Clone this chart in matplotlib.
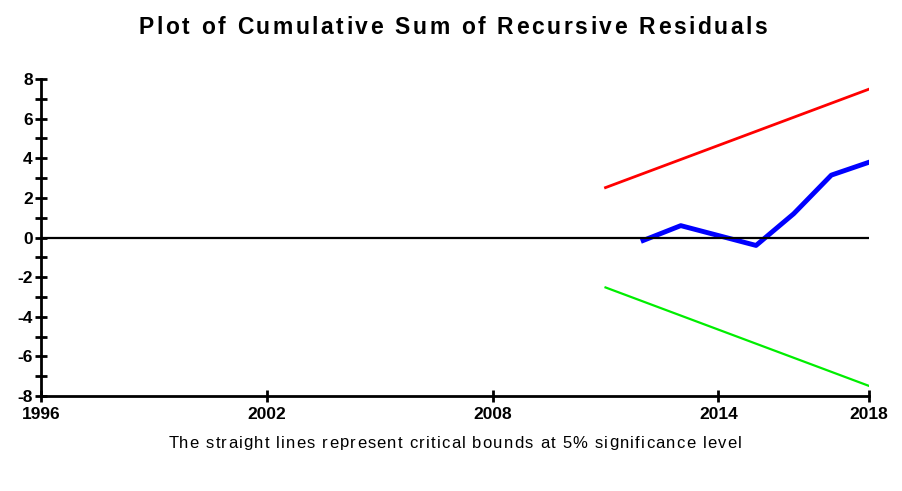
import matplotlib
matplotlib.use("Agg")
import matplotlib.pyplot as plt
from matplotlib.ticker import MultipleLocator

# data
years = [2011, 2012, 2013, 2014, 2015, 2016, 2017, 2018]
cusum_years = [2012, 2013, 2014, 2015, 2016, 2017, 2018]
cusum = [-0.15, 0.6, 0.1, -0.4, 1.2, 3.15, 3.8]
upper = [2.52, 3.23, 3.94, 4.65, 5.36, 6.07, 6.78, 7.49]
lower = [-v for v in upper]
xticks = [1996, 2002, 2008, 2014, 2018]

title = 'Plot of Cumulative Sum of Recursive Residuals'
note = 'The straight lines represent critical bounds at 5% significance level'

plt.rcParams['font.family'] = ['Liberation Sans', 'DejaVu Sans']
plt.rcParams['axes.unicode_minus'] = False

fig = plt.figure(figsize=(9.03, 4.91), dpi=100)
ax = fig.add_axes([0.0454, 0.1935, 0.9169, 0.6455])

ax.plot(years, upper, color='#ff0000', lw=2)
ax.plot(years, lower, color='#00ee00', lw=1.6)
ax.plot(cusum_years, cusum, color='#0000ff', lw=3.5)
ax.axhline(0, color='black', lw=1.6)

ax.set_xlim(1996, 2018)
ax.set_ylim(-8, 8)
ax.set_xticks(xticks)
ax.yaxis.set_major_locator(MultipleLocator(2))
ax.yaxis.set_minor_locator(MultipleLocator(1))

for s in ['top', 'right']:
    ax.spines[s].set_visible(False)
for s in ['left', 'bottom']:
    ax.spines[s].set_linewidth(2)

ax.tick_params(which='both', direction='inout', width=2, length=8, labelsize=12.5, pad=2)
ax.tick_params(axis='x', pad=4)
for lab in ax.get_xticklabels() + ax.get_yticklabels():
    lab.set_fontweight('bold')


# text with extra letter spacing, drawn char by char, centred on xc (pixels)
def spaced_text(xc, yc, s, gap, **kw):
    r = fig.canvas.get_renderer()
    def w(t):
        tt = fig.text(0, 0, t, **kw)
        e = tt.get_window_extent(r).width
        tt.remove()
        return e
    base = w('ii')
    widths = [w('i' + c + 'i') - base for c in s]
    total = sum(widths) + gap * (len(s) - 1)
    x = xc - total / 2
    for c, cw in zip(s, widths):
        fig.text(x / fig.bbox.width, yc / fig.bbox.height, c, ha='left', va='center', **kw)
        x += cw + gap


H = fig.bbox.height
spaced_text(453, H - 27, title, 2.6, fontsize=16.5, fontweight='bold')
spaced_text(455, H - 443, note, 1.2, fontsize=12)

fig.savefig('out.png', dpi=100)
